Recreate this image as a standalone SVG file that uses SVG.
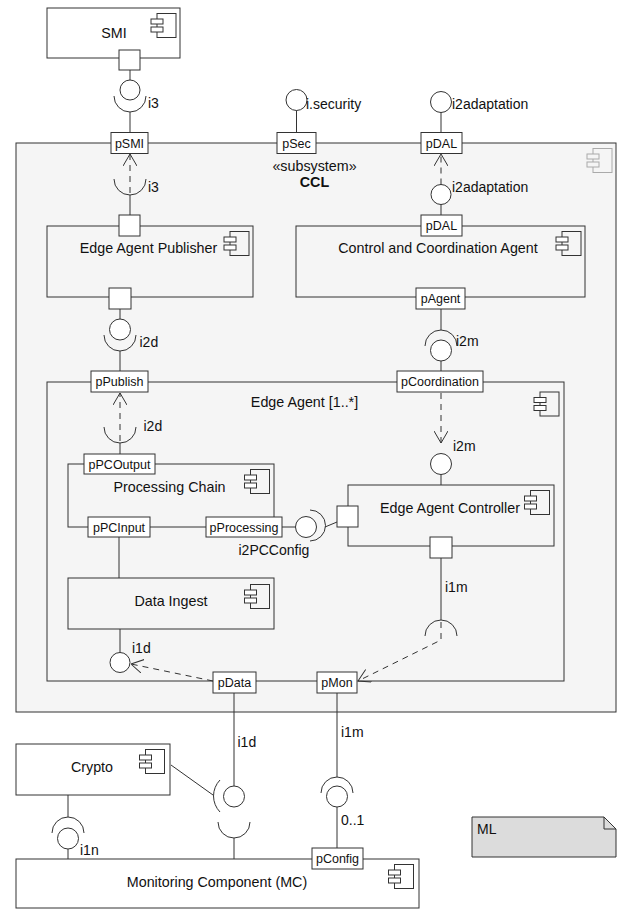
<svg xmlns="http://www.w3.org/2000/svg" width="621" height="909" viewBox="0 0 621 909">
<style>
text{font-family:"Liberation Sans",Arial,sans-serif;fill:#111}
.nm{font-size:14.3px;text-anchor:middle}
.lb{font-size:14px}
.pt{font-size:12.5px;text-anchor:middle}
.box{fill:none;stroke:#333;stroke-width:1}
.wbox{fill:#fff;stroke:#333;stroke-width:1}
.gbox{fill:#f5f5f5;stroke:#333;stroke-width:1}
.port{fill:#fff;stroke:#333;stroke-width:1}
.ln{fill:none;stroke:#333;stroke-width:1}
.dash{fill:none;stroke:#333;stroke-width:1;stroke-dasharray:6,5}
.ci{fill:#fff;stroke:#333;stroke-width:1}
</style>
<defs>
<g id="icon">
<rect x="6" y="0" width="19" height="24" fill="none" stroke="#333"/>
<rect x="0" y="5.5" width="12" height="5" fill="#fff" stroke="#333"/>
<rect x="0" y="13.5" width="12" height="5" fill="#fff" stroke="#333"/>
</g>
<g id="icong">
<rect x="6" y="0" width="19" height="24" fill="none" stroke="#aaa"/>
<rect x="0" y="5.5" width="12" height="5" fill="#f5f5f5" stroke="#aaa"/>
<rect x="0" y="13.5" width="12" height="5" fill="#f5f5f5" stroke="#aaa"/>
</g>
<marker id="arr" viewBox="0 0 12 14" refX="12" refY="7" markerWidth="12" markerHeight="14" markerUnits="userSpaceOnUse" orient="auto">
<path d="M0,0 L12,7 L0,14" fill="none" stroke="#333" stroke-width="1"/>
</marker>
</defs>

<g id="SMI">
<rect class="wbox" x="47" y="8" width="133" height="50"/>
<text class="nm" x="114" y="37.5">SMI</text>
<use href="#icon" x="151" y="13.5"/>
<rect class="port" x="119" y="50" width="21" height="20"/>
</g>

<g id="CCL">
<rect class="gbox" x="16" y="143" width="600" height="569"/>
<use href="#icong" x="587" y="148.5"/>
<text class="nm" x="314.5" y="171">«subsystem»</text>
<text class="nm" x="314.5" y="187" font-weight="bold">CCL</text>
</g>

<g id="EdgeAgentPublisher">
<rect class="box" x="47" y="226" width="206" height="71"/>
<text class="nm" x="148.5" y="253">Edge Agent Publisher</text>
<use href="#icon" x="224" y="231.5"/>
</g>

<g id="ControlCoordinationAgent">
<rect class="box" x="296" y="226" width="289" height="71"/>
<text class="nm" x="438" y="253">Control and Coordination Agent</text>
<use href="#icon" x="556" y="231.5"/>
</g>

<g id="EdgeAgent">
<rect class="gbox" x="47" y="382" width="517" height="299"/>
<text class="nm" x="304.5" y="406.5">Edge Agent [1..*]</text>
<use href="#icon" x="534" y="392"/>
</g>

<g id="ProcessingChain">
<rect class="box" x="68" y="464" width="206" height="63"/>
<text class="nm" x="169.5" y="492">Processing Chain</text>
<use href="#icon" x="244.5" y="469.5"/>
</g>

<g id="DataIngest">
<rect class="box" x="68" y="578" width="206" height="51"/>
<text class="nm" x="171" y="605.5">Data Ingest</text>
<use href="#icon" x="244.5" y="584.5"/>
</g>

<g id="EdgeAgentController">
<rect class="box" x="348" y="485" width="206" height="61"/>
<text class="nm" x="450" y="512.5">Edge Agent Controller</text>
<use href="#icon" x="524.5" y="490.5"/>
</g>

<g id="Crypto">
<rect class="wbox" x="16" y="744" width="154" height="51"/>
<text class="nm" x="92" y="771.5">Crypto</text>
<use href="#icon" x="139.5" y="749.5"/>
</g>

<g id="MonitoringComponent">
<rect class="wbox" x="16" y="859" width="403" height="49"/>
<text class="nm" x="217" y="886.5">Monitoring Component (MC)</text>
<use href="#icon" x="388.5" y="864.5"/>
</g>

<g id="ML">
<path d="M472,817 L604,817 L616,829 L616,857 L472,857 Z" fill="#dcdcdc" stroke="#333"/>
<path d="M604,817 L604,829 L616,829" fill="none" stroke="#333"/>
<text class="lb" x="477" y="834">ML</text>
</g>

<g id="connectors">
<!-- SMI - pSMI i3 -->
<line class="ln" x1="130" y1="70" x2="130" y2="80"/>
<circle class="ci" cx="130" cy="90" r="10"/>
<path class="ln" d="M114,96 A16,16 0 0 0 146,96"/>
<line class="ln" x1="130" y1="112" x2="130" y2="132.5"/>
<text class="lb" x="148" y="108">i3</text>
<!-- i.security -->
<circle class="ci" cx="296.5" cy="100" r="10.5"/>
<line class="ln" x1="296.5" y1="110.5" x2="296.5" y2="132.5"/>
<text class="lb" x="306" y="108.5">i.security</text>
<!-- i2adaptation outer -->
<circle class="ci" cx="441" cy="102" r="10.5"/>
<line class="ln" x1="441" y1="112.5" x2="441" y2="132.5"/>
<text class="lb" x="452" y="108.5">i2adaptation</text>
<!-- inner i3 -->
<line class="ln" x1="130" y1="195" x2="130" y2="215"/>
<path class="ln" d="M114,179 A16,16 0 0 0 146,179"/>
<line class="dash" x1="130" y1="193" x2="130" y2="154" marker-end="url(#arr)"/>
<text class="lb" x="148" y="191.5">i3</text>
<!-- inner i2adaptation -->
<circle class="ci" cx="441" cy="194.5" r="10"/>
<line class="ln" x1="441" y1="204.5" x2="441" y2="215"/>
<line class="dash" x1="441" y1="184.5" x2="441" y2="154" marker-end="url(#arr)"/>
<text class="lb" x="452" y="192">i2adaptation</text>
<!-- pAgent - pCoordination i2m -->
<line class="ln" x1="441" y1="309" x2="441" y2="330"/>
<path class="ln" d="M425,346 A16,16 0 0 1 457,346"/>
<circle class="ci" cx="441" cy="350.5" r="10.5"/>
<line class="ln" x1="441" y1="361" x2="441" y2="371"/>
<text class="lb" x="456" y="345.5">i2m</text>
<!-- Publisher - pPublish i2d -->
<line class="ln" x1="120" y1="309" x2="120" y2="319"/>
<circle class="ci" cx="120" cy="329.5" r="10.5"/>
<path class="ln" d="M104,335 A16,16 0 0 0 136,335"/>
<line class="ln" x1="120" y1="351" x2="120" y2="371"/>
<text class="lb" x="139.5" y="347">i2d</text>
<!-- inner i2d -->
<path class="ln" d="M104,427 A16,16 0 0 0 136,427"/>
<line class="ln" x1="120" y1="443" x2="120" y2="454"/>
<line class="dash" x1="120" y1="441" x2="120" y2="393" marker-end="url(#arr)"/>
<text class="lb" x="143.5" y="430.5">i2d</text>
<!-- inner i2m -->
<line class="dash" x1="441" y1="393" x2="441" y2="443" marker-end="url(#arr)"/>
<circle class="ci" cx="441" cy="464" r="10.5"/>
<line class="ln" x1="441" y1="474.5" x2="441" y2="485"/>
<text class="lb" x="453" y="450.5">i2m</text>
<!-- pPCInput - Data Ingest -->
<line class="ln" x1="119" y1="537" x2="119" y2="578"/>
<!-- i2PCConfig -->
<line class="ln" x1="282" y1="527" x2="295.5" y2="527"/>
<circle class="ci" cx="306" cy="527" r="10.5"/>
<path class="ln" d="M310,510 A15.5,15.5 0 0 1 310,541"/>
<line class="ln" x1="325" y1="527" x2="337" y2="522"/>
<text class="lb" x="238.5" y="555">i2PCConfig</text>
<!-- i1m inner -->
<line class="ln" x1="441" y1="558" x2="441" y2="620"/>
<path class="ln" d="M425,636 A16,16 0 0 1 457,636"/>
<path class="dash" d="M441,622 L441,640 L358,681" marker-end="url(#arr)"/>
<text class="lb" x="445" y="591.5">i1m</text>
<!-- i1d inner -->
<line class="ln" x1="120" y1="629" x2="120" y2="652.5"/>
<circle class="ci" cx="120" cy="662.5" r="10"/>
<line class="dash" x1="213" y1="681" x2="131" y2="664" marker-end="url(#arr)"/>
<text class="lb" x="132" y="653">i1d</text>
<!-- pData outer i1d -->
<line class="ln" x1="234" y1="693" x2="234" y2="786"/>
<circle class="ci" cx="234" cy="796.5" r="10.5"/>
<path class="ln" d="M220,780 A23,23 0 0 0 220,812"/>
<line class="ln" x1="171" y1="765" x2="213" y2="795"/>
<path class="ln" d="M218,822 A16,16 0 0 0 250,822"/>
<line class="ln" x1="234" y1="838" x2="234" y2="859"/>
<text class="lb" x="237.5" y="746.5">i1d</text>
<!-- pMon outer i1m -->
<line class="ln" x1="337" y1="693" x2="337" y2="777"/>
<path class="ln" d="M321,793 A16,16 0 0 1 353,793"/>
<circle class="ci" cx="337" cy="796.5" r="10.5"/>
<line class="ln" x1="337" y1="807" x2="337" y2="848"/>
<text class="lb" x="341" y="736.5">i1m</text>
<text class="lb" x="341" y="825">0..1</text>
<!-- i1n -->
<line class="ln" x1="68" y1="795" x2="68" y2="817"/>
<path class="ln" d="M52,833 A16,16 0 0 1 84,833"/>
<circle class="ci" cx="68" cy="838.5" r="10.5"/>
<line class="ln" x1="68" y1="849" x2="68" y2="859"/>
<text class="lb" x="80" y="855">i1n</text>
</g>

<g id="ports">
<rect class="port" x="111" y="132.5" width="37" height="21"/><text class="pt" x="129.5" y="147.5">pSMI</text>
<rect class="port" x="277" y="132.5" width="39" height="21"/><text class="pt" x="296.5" y="147.5">pSec</text>
<rect class="port" x="421" y="132.5" width="41" height="21"/><text class="pt" x="441.5" y="147.5">pDAL</text>
<rect class="port" x="119" y="215" width="21" height="21"/>
<rect class="port" x="109" y="288" width="22" height="21"/>
<rect class="port" x="421" y="215" width="41" height="21"/><text class="pt" x="441.5" y="230">pDAL</text>
<rect class="port" x="416" y="288" width="49" height="21"/><text class="pt" x="440.5" y="303">pAgent</text>
<rect class="port" x="91" y="371" width="57" height="21"/><text class="pt" x="119.5" y="386">pPublish</text>
<rect class="port" x="397" y="371" width="86" height="21"/><text class="pt" x="440" y="386">pCoordination</text>
<rect class="port" x="84" y="454" width="71" height="20"/><text class="pt" x="119.5" y="468.5">pPCOutput</text>
<rect class="port" x="88" y="517" width="62" height="20"/><text class="pt" x="119" y="531.5">pPCInput</text>
<rect class="port" x="206" y="517" width="76" height="20"/><text class="pt" x="244" y="531.5">pProcessing</text>
<rect class="port" x="337" y="506" width="21" height="21"/>
<rect class="port" x="430" y="537" width="22" height="21"/>
<rect class="port" x="213" y="672" width="43" height="21"/><text class="pt" x="234.5" y="687">pData</text>
<rect class="port" x="317" y="672" width="40" height="21"/><text class="pt" x="337" y="687">pMon</text>
<rect class="port" x="312" y="848" width="51" height="21"/><text class="pt" x="337.5" y="863">pConfig</text>
</g>
</svg>
